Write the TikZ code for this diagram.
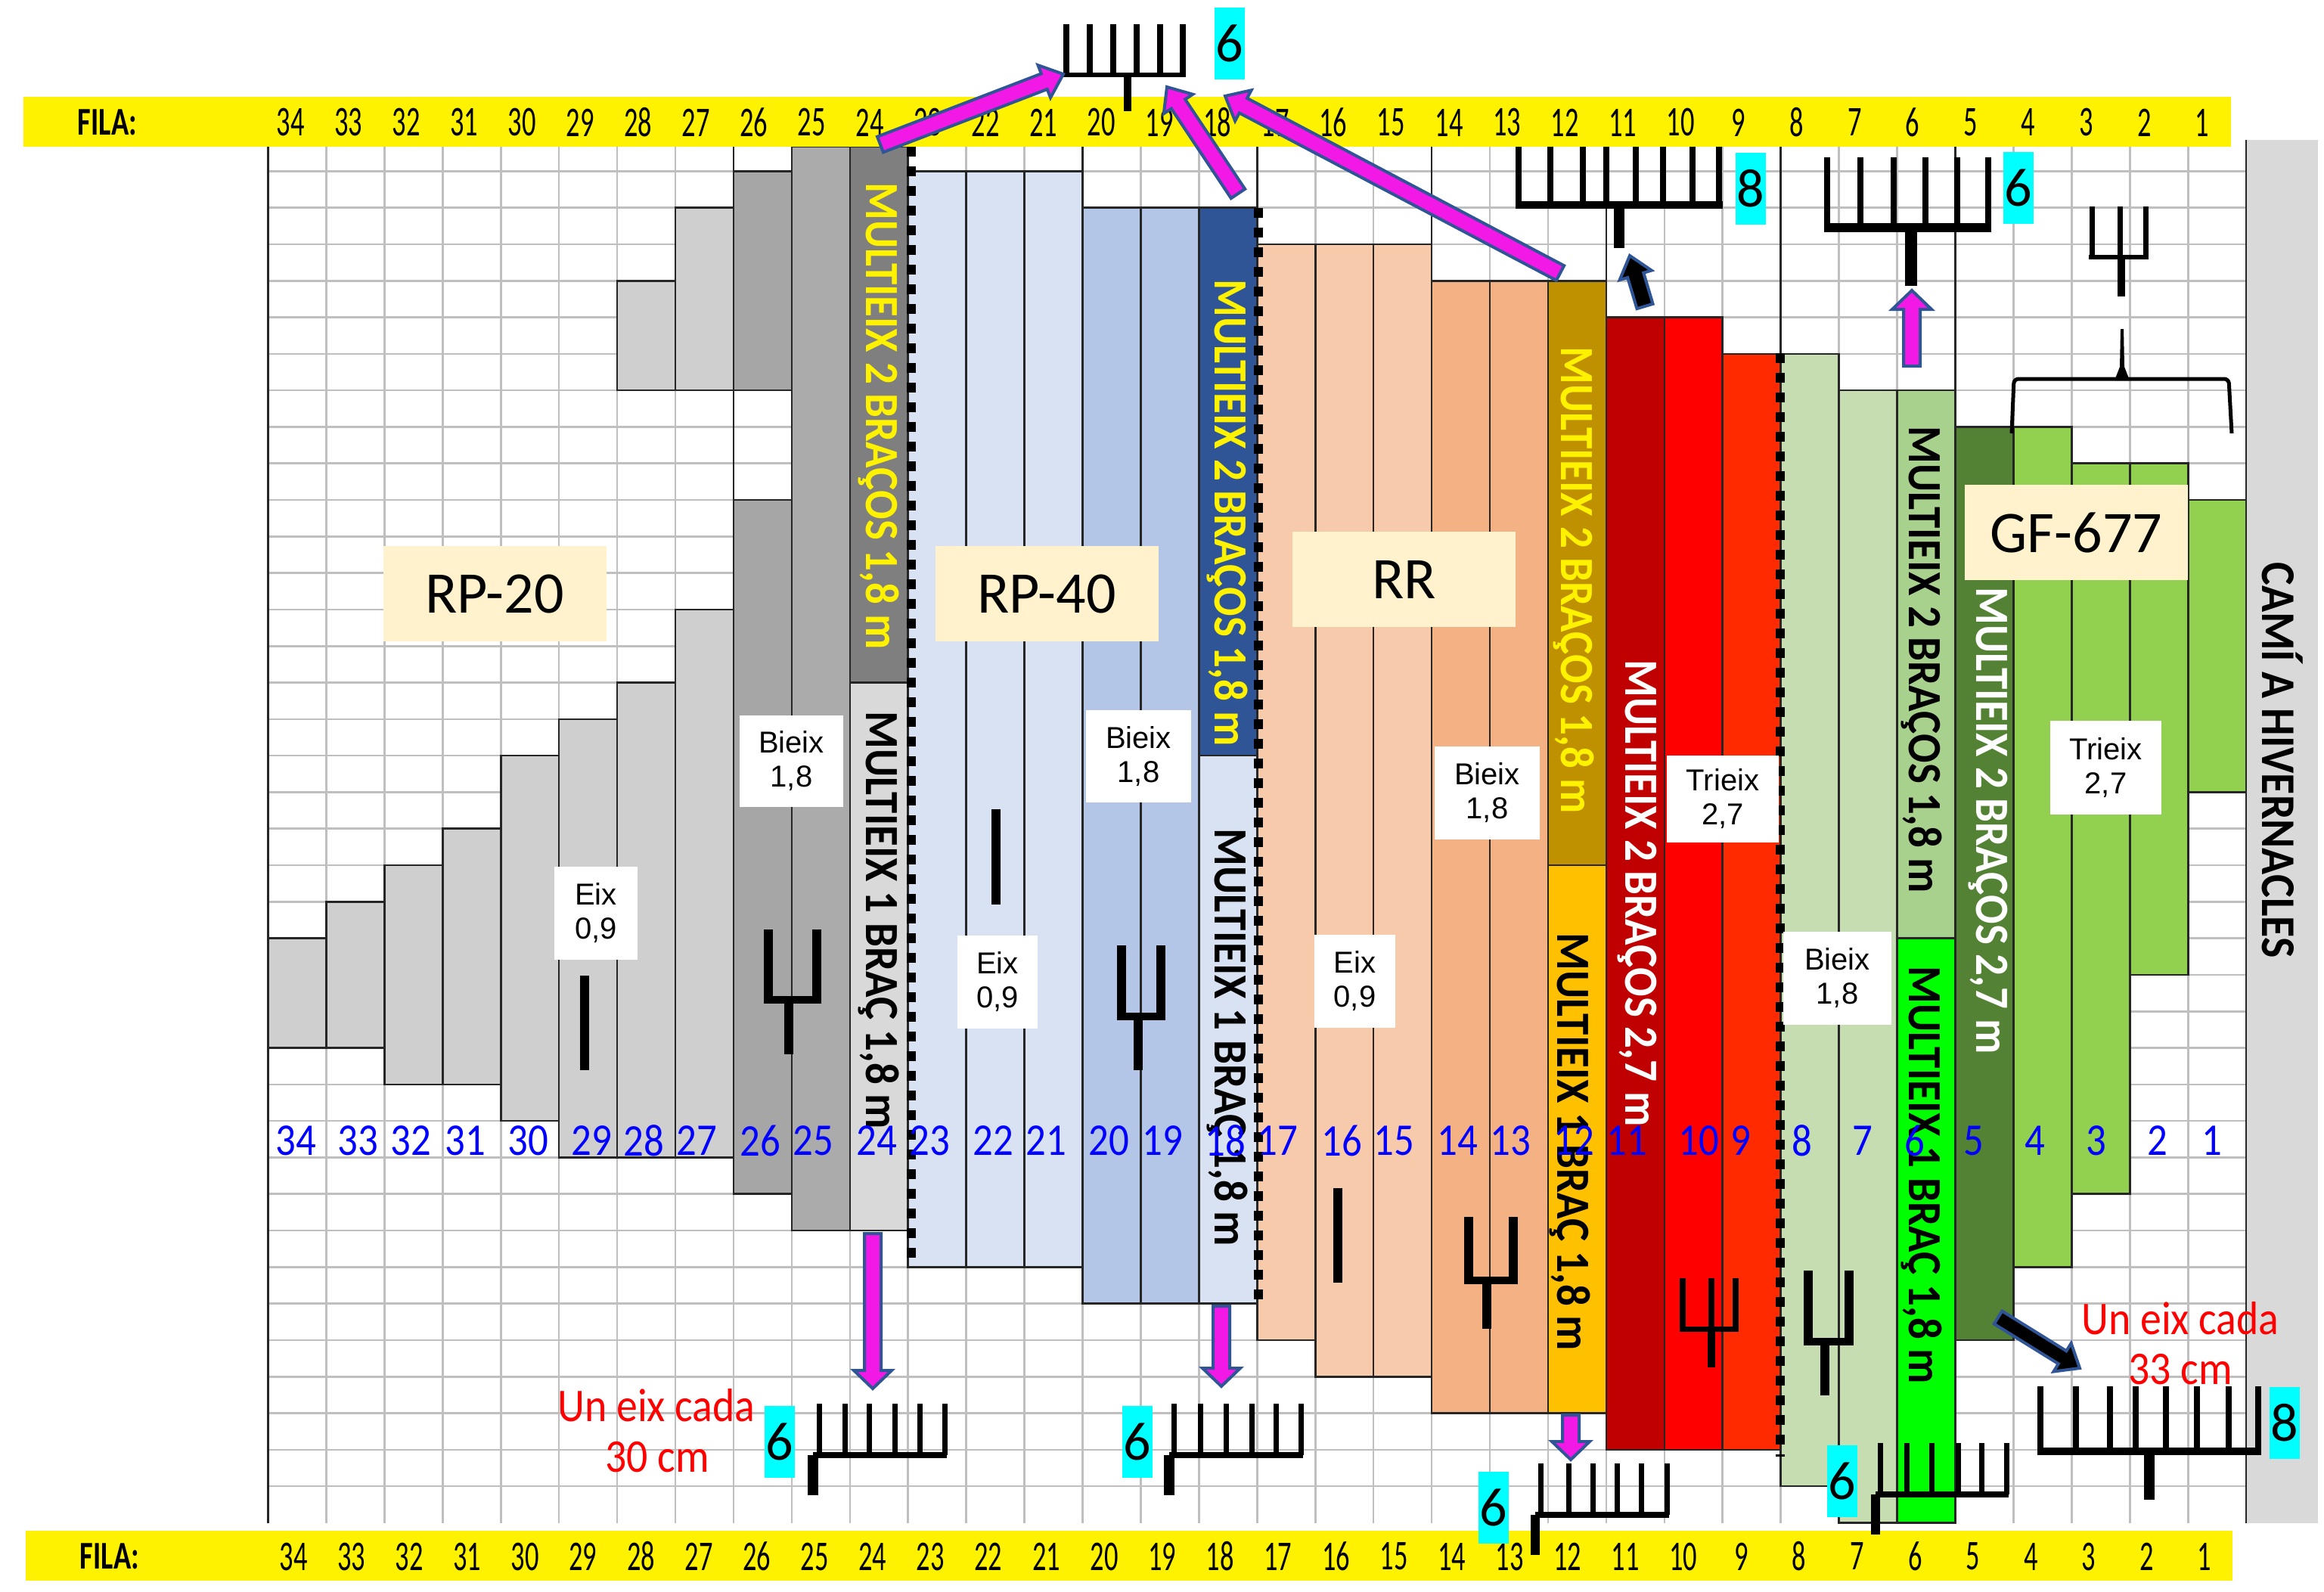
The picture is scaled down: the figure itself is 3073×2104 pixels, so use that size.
\documentclass[tikz,border=0pt]{standalone}
\usepackage{fontspec}
\usetikzlibrary{calc}
\setmainfont{Carlito}
\newfontfamily\carlito{Carlito}
\newfontfamily\rotfont[FakeStretch=0.905]{Carlito}
\newfontfamily\digitfont[FakeStretch=0.65]{Carlito}
\newfontfamily\bluefont[FakeStretch=0.88]{Carlito}
\newfontfamily\filafont[FakeStretch=0.74]{Carlito}
\newfontfamily\redfont[FakeStretch=0.9]{Carlito}
\newfontfamily\armfont{Liberation Sans}
\definecolor{gridgray}{HTML}{BFBFBF}
\definecolor{lgray}{HTML}{CFCFCF}
\definecolor{mgray}{HTML}{A6A6A6}
\definecolor{m2gray}{HTML}{ABABAB}
\definecolor{dgray}{HTML}{7F7F7F}
\definecolor{l2gray}{HTML}{D9D9D9}
\definecolor{lblue}{HTML}{D9E2F3}
\definecolor{mblue}{HTML}{B4C6E7}
\definecolor{dblue}{HTML}{2F5597}
\definecolor{lorange}{HTML}{F7CAAC}
\definecolor{morange}{HTML}{F4B183}
\definecolor{dgold}{HTML}{BF9000}
\definecolor{gold}{HTML}{FFC000}
\definecolor{dred}{HTML}{C00000}
\definecolor{ored}{HTML}{FF2A00}
\definecolor{lgreen}{HTML}{C5DDB1}
\definecolor{mgreen}{HTML}{A9D18E}
\definecolor{dgreen}{HTML}{548235}
\definecolor{bgreen}{HTML}{92D050}
\definecolor{cream}{HTML}{FFF2CC}
\definecolor{magentaarrow}{HTML}{F218E6}
\definecolor{bluenum}{HTML}{0000FF}
\tikzset{
  gridline/.style={draw=gridgray,line width=2.6},
  blackline/.style={draw=black!85,line width=2.6},
  colbox/.style={draw=black!85,line width=2.6},
  dotline/.style={draw=black,line width=12,dash pattern=on 13 off 13},
  rotlabel/.style={rotate=-90,inner sep=0,font={\rotfont\bfseries\fontsize{63}{63}\selectfont}},
  topnum/.style={inner sep=0,font={\digitfont\fontsize{56}{56}\selectfont}},
  filalabel/.style={inner sep=0,font={\filafont\bfseries\fontsize{52}{52}\selectfont}},
  bluelabel/.style={inner sep=0,text=bluenum,font={\bluefont\fontsize{60}{60}\selectfont}},
  redlabel/.style={inner sep=0,text=red,font={\redfont\fontsize{62}{62}\selectfont}},
  whitebox/.style={fill=white,inner sep=0,align=center,font={\armfont\fontsize{40}{45}\selectfont}},
  creambox/.style={fill=cream,inner sep=0,minimum width=295,minimum height=126,font={\carlito\fontsize{78}{78}\selectfont}},
  cyanbox/.style={fill=cyan,inner sep=0,minimum width=40,minimum height=95,font={\carlito\fontsize{72}{72}\selectfont}},
  arrowline/.style={draw=dblue,line width=4,line join=miter},
}
\definecolor{cyan}{HTML}{00FFFF}
\newcommand\colrect[4]{\path[colbox,fill=#4] ({354.5+76.93*(34-#1)},{226.3+48.3*#2}) rectangle ({354.5+76.93*(35-#1)},{226.3+48.3*#3});}
% name, fill, from, to, shaft, head, headlength
\newcommand\blockarrow[7]{%
  \coordinate (#1s) at (#3);
  \coordinate (#1e) at (#4);
  \coordinate (#1h) at ($(#1e)!#7pt!(#1s)$);
  \draw[arrowline,fill=#2] ($(#1s)!#5/2*1pt!90:(#1e)$) -- ($(#1h)!#5/2*1pt!90:(#1e)$) -- ($(#1h)!#6/2*1pt!90:(#1e)$) -- (#1e) -- ($(#1h)!#6/2*1pt!-90:(#1e)$) -- ($(#1h)!#5/2*1pt!-90:(#1e)$) -- ($(#1s)!#5/2*1pt!-90:(#1e)$) -- cycle;
}
% tines, top, bar y, bar left, bar right, stem x, stem bottom, tine w, bar w
\newcommand\rake[9]{\foreach \t in {#1}{\fill (\t-#8/2,#2) rectangle (\t+#8/2,#3);}
  \draw[line width=#9] (#4,#3) -- (#5,#3);
  \rakestem{#6}{#3}{#7}}
\newcommand\rakestem[3]{\draw[line width=\stemw] (#1,#2) -- (#1,#3);}
\def\stemw{12}
\begin{document}
\begin{tikzpicture}[x=1pt,y=-1pt]
\useasboundingbox (0,0) rectangle (3073,2104);
\fill[white] (0,0) rectangle (3073,2104);
% grid
\foreach \j in {0,...,36} \draw[gridline] (354.5,{226.3+48.3*\j}) -- (2970,{226.3+48.3*\j});
\foreach \k in {1,...,33} \draw[gridline] ({354.5+76.93*\k},194) -- ({354.5+76.93*\k},2013.5);
\draw[blackline] (354.5,194) -- (354.5,2013.5);
\foreach \k/\j in {8/9,14/1,17/2,20/3,23/4,26/5,29/7} \draw[blackline] ({354.5+76.93*\k},194) -- ({354.5+76.93*\k},{226.3+48.3*\j});
% right band
\fill[l2gray] (2970,185) rectangle (3065,2013.5);
\draw[blackline] (2970,185) -- (2970,2013.5);
% columns
\colrect{34}{21}{24}{lgray}
\colrect{33}{20}{24}{lgray}
\colrect{32}{19}{25}{lgray}
\colrect{31}{18}{25}{lgray}
\colrect{30}{16}{26}{lgray}
\colrect{29}{15}{27}{lgray}
\colrect{28}{14}{27}{lgray}
\colrect{28}{3}{6}{lgray}
\colrect{27}{12}{27}{lgray}
\colrect{27}{1}{6}{lgray}
\colrect{26}{9}{28}{mgray}
\colrect{26}{0}{6}{mgray}
\colrect{25}{-0.669}{29}{m2gray}
\colrect{24}{-0.669}{14}{dgray}
\colrect{24}{14}{29}{l2gray}
\colrect{23}{0}{30}{lblue}
\colrect{22}{0}{30}{lblue}
\colrect{21}{0}{30}{lblue}
\colrect{20}{1}{31}{mblue}
\colrect{19}{1}{31}{mblue}
\colrect{18}{1}{16}{dblue}
\colrect{18}{16}{31}{lblue}
\colrect{17}{2}{32}{lorange}
\colrect{16}{2}{33}{lorange}
\colrect{15}{2}{33}{lorange}
\colrect{14}{3}{34}{morange}
\colrect{13}{3}{34}{morange}
\colrect{12}{3}{19}{dgold}
\colrect{12}{19}{34}{gold}
\colrect{11}{4}{35}{dred}
\colrect{10}{4}{35}{red}
\colrect{9}{5}{35}{ored}
\colrect{8}{5}{36}{lgreen}
\colrect{7}{6}{37}{lgreen}
\colrect{6}{6}{21}{mgreen}
\colrect{6}{21}{37}{green}
\colrect{5}{7}{32}{dgreen}
\colrect{4}{7}{30}{bgreen}
\colrect{3}{8}{28}{bgreen}
\colrect{2}{8}{22}{bgreen}
\colrect{1}{9}{17}{bgreen}
% dotted separators
\draw[dotline] (1205,194) -- (1205,1665);
\draw[dotline] (1664,275) -- (1664,1722);
\draw[dotline] (2354,467) -- (2354,1926);
% rotated labels
\node[rotlabel,text=yellow] (l24a) at (1162,550) {MULTIEIX 2 BRAÇOS 1,8 m};
\node[rotlabel,text=black] (l24b) at (1162,1217) {MULTIEIX 1 BRAÇ 1,8 m};
\node[rotlabel,text=yellow] (l18a) at (1623,678) {MULTIEIX 2 BRAÇOS 1,8 m};
\node[rotlabel,text=black] (l18b) at (1623,1372) {MULTIEIX 1 BRAÇ 1,8 m};
\node[rotlabel,text=yellow] (l12a) at (2081,767) {MULTIEIX 2 BRAÇOS 1,8 m};
\node[rotlabel,text=black] (l12b) at (2076,1510) {MULTIEIX 1 BRAÇ 1,8 m};
\node[rotlabel,text=white] (l11) at (2165,1181) {MULTIEIX 2 BRAÇOS 2,7 m};
\node[rotlabel,text=black] (l6a) at (2541,872) {MULTIEIX 2 BRAÇOS 1,8 m};
\node[rotlabel,text=black] (l6b) at (2541,1554) {MULTIEIX 1 BRAÇ 1,8 m};
\node[rotlabel,text=white] (l5) at (2629,1085) {MULTIEIX 2 BRAÇOS 2,7 m};
\node[rotlabel,text=black,font={\rotfont\bfseries\fontsize{64}{64}\selectfont}] (cami) at (3018,1005) {CAMÍ A HIVERNACLES};
% white boxes
\node[whitebox,minimum width=137,minimum height=121] (bx1) at (1046.5,1006.5) {Bieix\\1,8};
\node[whitebox,minimum width=139,minimum height=122] (bx2) at (1505.5,1000) {Bieix\\1,8};
\node[whitebox,minimum width=139,minimum height=123] (bx3) at (1966.5,1048.5) {Bieix\\1,8};
\node[whitebox,minimum width=143,minimum height=123] (bx4) at (2429.5,1293.5) {Bieix\\1,8};
\node[whitebox,minimum width=148,minimum height=115] (tr1) at (2278,1056.5) {Trieix\\2,7};
\node[whitebox,minimum width=147,minimum height=124] (tr2) at (2784.5,1015) {Trieix\\2,7};
\node[whitebox,minimum width=110,minimum height=123] (e1) at (788,1207.5) {Eix\\0,9};
\node[whitebox,minimum width=106,minimum height=123] (e2) at (1319,1298.5) {Eix\\0,9};
\node[whitebox,minimum width=107,minimum height=123] (e3) at (1791.5,1297.5) {Eix\\0,9};
% cream boxes
\node[creambox] (rp20) at (654,785) {RP-20};
\node[creambox] (rp40) at (1384,785) {RP-40};
\node[creambox] (rr) at (1856.5,766) {RR};
\node[creambox] (gf) at (2745.5,704) {GF-677};
% yellow bands
\fill[yellow] (31,128) rectangle (2950,194);
\fill[yellow] (34,2024) rectangle (2952,2090);
\node[filalabel] (filatop) at (142,162) {FILA:};
\node[filalabel] (filabot) at (145,2058) {FILA:};
\foreach \n in {34,33,32,31,30,29,28,27,26,25,24,23,22,21,20,19,18,17,16,15,14,13,12,11,10,9,8,7,6,5,4,3,2,1} {
  \node[topnum] (t\n) at ({384+76.6*(34-\n)},162) {\n};
  \node[topnum] (d\n) at ({388+76.58*(34-\n)},2058) {\n};
}
% blue row numbers
\foreach \n/\x in {34/391,33/473,32/543,31/615,30/698,29/782,28/851,27/921,26/1005,25/1075,24/1159,23/1229,22/1313,21/1383,20/1466,19/1537,18/1620,17/1689,16/1774,15/1843,14/1927,13/1997,12/2081,11/2151,10/2246,9/2302,8/2383,7/2463,6/2532,5/2610,4/2691,3/2772,2/2853,1/2925}
  \node[bluelabel] (b\n) at (\x,1508) {\n};
% single axles
\draw[line width=12] (773,1290) -- (773,1415);
\draw[line width=12] (1317,1070) -- (1317,1196);
\draw[line width=12] (1769,1571) -- (1769,1696);
% forks and rakes
\def\stemw{12}
\rake{1016,1080}{1229}{1322}{1010}{1086}{1043}{1394}{12}{10}
\rake{1483,1535}{1250}{1344}{1477}{1541}{1505}{1415}{12}{10}
\rake{1942,2001}{1609}{1693}{1936}{2007}{1966}{1757}{12}{10}
\rake{2391,2445}{1680}{1774}{2385}{2451}{2413}{1845}{12}{10}
\def\stemw{10}
\rake{2225,2263,2295}{1690}{1757}{2221}{2299}{2263}{1808}{8}{7}
\rake{2766,2803,2837}{273}{340}{2762}{2841}{2805}{392}{7}{6}
\def\stemw{10}
\rake{1410,1441,1472,1503,1534,1564}{32}{99}{1406}{1568}{1491}{147}{8}{6}
\def\stemw{14}
\rake{2008,2050,2093,2124,2163,2199,2238,2273}{194}{271}{2004}{2278}{2141}{328}{8}{10}
\def\stemw{16}
\rake{2416,2460,2504,2546,2588,2629}{208}{301}{2412}{2633}{2527}{378}{8}{12}
\def\stemw{14}
\rake{1083,1117,1149,1183,1216,1249}{1856}{1924}{1075}{1252}{1075}{1977}{7}{8}
\rake{1552,1587,1621,1655,1687,1720}{1856}{1924}{1546}{1723}{1546}{1977}{7}{8}
\def\stemw{12}
\rake{2037,2074,2106,2138,2170,2204}{1935}{2003}{2030}{2207}{2030}{2056}{7}{8}
\rake{2486,2521,2554,2589,2620,2653}{1908}{1976}{2480}{2656}{2480}{2029}{7}{8}
\def\stemw{14}
\rake{2698,2745,2790,2824,2864,2905,2947,2986}{1833}{1919}{2694}{2990}{2842}{1983}{8}{10}
% cyan counters
\node[cyanbox] (c1) at (1625.5,57.5) {6};
\node[cyanbox] (c2) at (2314.5,249.5) {8};
\node[cyanbox] (c3) at (2668.5,248) {6};
\node[cyanbox] (c4) at (1031,1906) {6};
\node[cyanbox] (c5) at (1503.5,1906) {6};
\node[cyanbox] (c6) at (1974.5,1993) {6};
\node[cyanbox] (c7) at (2435.5,1958.5) {6};
\node[cyanbox] (c8) at (3021,1881.5) {8};
% brace
\draw[line width=5,rounded corners=6] (2660,573) -- (2663,501) -- (2947,501) -- (2951,573);
\fill (2796,503) -- (2803,485) -- (2804,435) -- (2808,435) -- (2809,485) -- (2816,503) -- cycle;
% block arrows
\blockarrow{a1}{magentaarrow}{1164,191}{1406,98}{22}{46}{27}
\blockarrow{a2}{magentaarrow}{1637,256}{1543,115}{22}{46}{27}
\blockarrow{a3}{magentaarrow}{2063,361}{1620,127}{22}{46}{27}
\blockarrow{a4}{black}{2175,405}{2155,338}{22}{44}{27}
\blockarrow{a5}{magentaarrow}{2528,484}{2528,384}{22}{52}{25}
\blockarrow{a6}{magentaarrow}{1154,1631}{1154,1836}{22}{50}{24}
\blockarrow{a7}{magentaarrow}{1615,1727}{1615,1833}{22}{50}{24}
\blockarrow{a8}{magentaarrow}{2077,1871}{2077,1930}{22}{50}{24}
\blockarrow{a9}{black}{2642,1742}{2750,1809}{20}{44}{27}
% red notes
\node[redlabel] (r1) at (868,1858) {Un eix cada};
\node[redlabel] (r2) at (869,1927) {30 cm};
\node[redlabel] (r3) at (2883,1743) {Un eix cada};
\node[redlabel] (r4) at (2883,1811) {33 cm};
\end{tikzpicture}
\end{document}
